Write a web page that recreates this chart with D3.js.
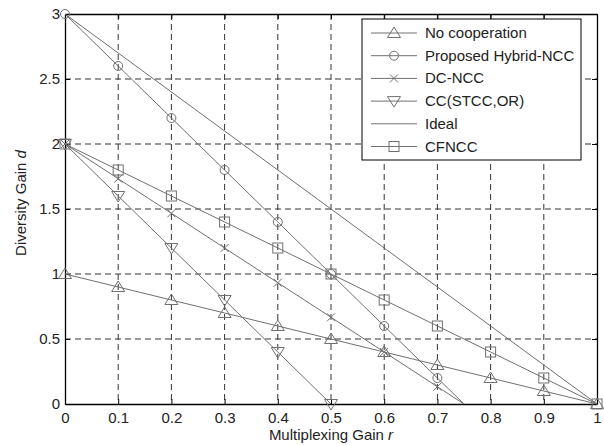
<!DOCTYPE html>
<html lang="en">
<head>
<meta charset="utf-8">
<title>diversity multiplexing tradeoff</title>
<script src="https://d3js.org/d3.v7.min.js"></script>
<style>
  body{margin:0;background:#fff;font-family:"Liberation Sans",Arial,sans-serif;}
  text{font-family:"Liberation Sans",Arial,sans-serif;}
</style>
</head>
<body>
<div id="chart"></div>
<script>
// values
var rTicks = [0,0.1,0.2,0.3,0.4,0.5,0.6,0.7,0.8,0.9,1]
var dTicks = [0,0.5,1,1.5,2,2.5,3]

var noCoopR = [0,0.1,0.2,0.3,0.4,0.5,0.6,0.7,0.8,0.9,1]
var noCoopD = [1,0.9,0.8,0.7,0.6,0.5,0.4,0.3,0.2,0.1,0]

var hybridR = [0,0.1,0.2,0.3,0.4,0.5,0.6,0.7,0.75]
var hybridD = [3,2.6,2.2,1.8,1.4,1.0,0.6,0.2,0]

var dcnccR = [0,0.1,0.2,0.3,0.4,0.5,0.6,0.7,0.75]
var dcnccD = [2,1.733,1.467,1.2,0.933,0.667,0.4,0.133,0]

var ccR = [0,0.1,0.2,0.3,0.4,0.5]
var ccD = [2,1.6,1.2,0.8,0.4,0]

var idealR = [0,1]
var idealD = [3,0]

var cfnccR = [0,0.1,0.2,0.3,0.4,0.5,0.6,0.7,0.8,0.9,1]
var cfnccD = [2,1.8,1.6,1.4,1.2,1.0,0.8,0.6,0.4,0.2,0]

var names = ["No cooperation","Proposed Hybrid-NCC","DC-NCC","CC(STCC,OR)","Ideal","CFNCC"]
var markers = ["tri","circle","x","tridown","none","square"]
var seriesR = [noCoopR,hybridR,dcnccR,ccR,idealR,cfnccR]
var seriesD = [noCoopD,hybridD,dcnccD,ccD,idealD,cfnccD]
// the last point of these two sits on the axis without a marker
var skipLast = [false,true,true,false,false,false]

var W = 604, H = 445
var mLeft = 65, mRight = 597, mTop = 14, mBottom = 404
var lineCol = "#707070"

var svg = d3.select("#chart").append("svg").attr("width",W).attr("height",H)

var x = d3.scaleLinear().domain([0,1]).range([mLeft,mRight])
var y = d3.scaleLinear().domain([0,3]).range([mBottom,mTop])

// grid
svg.append("g").selectAll("line").data(rTicks.slice(1,-1)).enter().append("line")
  .attr("x1",function(d){return x(d)}).attr("x2",function(d){return x(d)})
  .attr("y1",mTop).attr("y2",mBottom)
  .attr("stroke","#333").attr("stroke-width",1).attr("stroke-dasharray","6,4")
svg.append("g").selectAll("line").data(dTicks.slice(1,-1)).enter().append("line")
  .attr("y1",function(d){return y(d)}).attr("y2",function(d){return y(d)})
  .attr("x1",mLeft).attr("x2",mRight)
  .attr("stroke","#333").attr("stroke-width",1).attr("stroke-dasharray","6,4")

// axes (ticks inward, top/right mirrored)
var xAxis = d3.axisBottom(x).tickValues(rTicks).tickSizeInner(-5).tickSizeOuter(0).tickPadding(8)
  .tickFormat(function(d){return d3.format("")(+d.toFixed(1))})
var yAxis = d3.axisLeft(y).tickValues(dTicks).tickSizeInner(-5).tickSizeOuter(0).tickPadding(5)
  .tickFormat(function(d){return d3.format("")(d)})
svg.append("g").attr("transform","translate(0,"+mBottom+")").call(xAxis)
svg.append("g").attr("transform","translate("+mLeft+",0)").call(yAxis)
svg.append("g").attr("transform","translate(0,"+mTop+")")
  .call(d3.axisTop(x).tickValues(rTicks).tickSizeInner(-5).tickSizeOuter(0).tickFormat(""))
svg.append("g").attr("transform","translate("+mRight+",0)")
  .call(d3.axisRight(y).tickValues(dTicks).tickSizeInner(-5).tickSizeOuter(0).tickFormat(""))
svg.selectAll(".domain").attr("stroke","#000").attr("stroke-width",1.3)
svg.selectAll(".tick line").attr("stroke","#000")
svg.selectAll(".tick text").attr("font-size",15).attr("fill","#222")

// series
var line = d3.line().x(function(d){return x(d[0])}).y(function(d){return y(d[1])})

function drawMarker(g,type,cx,cy){
  if(type=="tri"){
    g.append("path").attr("d","M"+cx+","+(cy-6)+"L"+(cx+6.5)+","+(cy+4.5)+"L"+(cx-6.5)+","+(cy+4.5)+"Z")
      .attr("fill","none").attr("stroke",lineCol)
  }else if(type=="tridown"){
    g.append("path").attr("d","M"+cx+","+(cy+6)+"L"+(cx+6.5)+","+(cy-4.5)+"L"+(cx-6.5)+","+(cy-4.5)+"Z")
      .attr("fill","none").attr("stroke",lineCol)
  }else if(type=="circle"){
    g.append("circle").attr("cx",cx).attr("cy",cy).attr("r",4.5)
      .attr("fill","none").attr("stroke",lineCol)
  }else if(type=="x"){
    g.append("path").attr("d","M"+(cx-4)+","+(cy-4)+"L"+(cx+4)+","+(cy+4)+"M"+(cx-4)+","+(cy+4)+"L"+(cx+4)+","+(cy-4))
      .attr("fill","none").attr("stroke",lineCol)
  }else if(type=="square"){
    g.append("rect").attr("x",cx-5).attr("y",cy-5).attr("width",10).attr("height",10)
      .attr("fill","none").attr("stroke",lineCol)
  }
}

seriesR.forEach(function(rs,i){
  var pts = rs.map(function(r,j){return [r,seriesD[i][j]]})
  var g = svg.append("g")
  g.append("path").datum(pts).attr("d",line).attr("fill","none").attr("stroke",lineCol).attr("stroke-width",1)
  var mpts = skipLast[i] ? pts.slice(0,-1) : pts
  mpts.forEach(function(p){ drawMarker(g,markers[i],x(p[0]),y(p[1])) })
})

// legend
var lg = svg.append("g")
lg.append("rect").attr("x",362).attr("y",19).attr("width",219).attr("height",141)
  .attr("fill","#fff").attr("stroke","#000").attr("stroke-width",1)
names.forEach(function(n,i){
  var ly = 33 + i*22.7
  lg.append("line").attr("x1",371).attr("x2",417).attr("y1",ly).attr("y2",ly).attr("stroke",lineCol)
  drawMarker(lg,markers[i],394,ly)
  lg.append("text").attr("x",425).attr("y",ly+5).attr("font-size",15).attr("fill","#222").text(n)
})

// axis labels
var xl = svg.append("text").attr("x",331).attr("y",440).attr("text-anchor","middle").attr("font-size",15).attr("fill","#222")
xl.append("tspan").text("Multiplexing Gain ")
xl.append("tspan").attr("font-style","italic").text("r")
var yl = svg.append("text").attr("transform","translate(26,203) rotate(-90)").attr("text-anchor","middle").attr("font-size",15).attr("fill","#222")
yl.append("tspan").text("Diversity Gain ")
yl.append("tspan").attr("font-style","italic").text("d")
</script>
</body>
</html>
